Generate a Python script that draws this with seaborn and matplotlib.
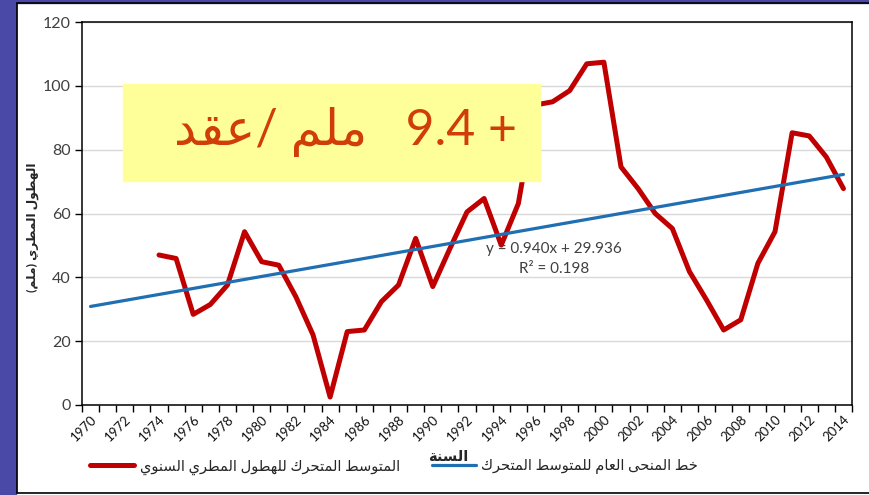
import numpy as np
import pandas as pd
import matplotlib
matplotlib.use("Agg")
import matplotlib.pyplot as plt
from matplotlib.patches import Rectangle
from matplotlib.lines import Line2D
import seaborn as sns

# data
years = list(range(1970, 2015))
rain_ma = [np.nan, np.nan, np.nan, np.nan,
           47.0, 45.9, 28.4, 31.5, 37.6, 54.3, 44.9, 43.8, 33.9, 22.0,
           2.5, 23.0, 23.5, 32.4, 37.6, 52.2, 37.1, 49.0, 60.5, 64.7,
           50.1, 63.1, 94.0, 95.0, 98.5, 106.9, 107.4, 74.6, 67.8, 60.0,
           55.3, 41.8, 32.9, 23.5, 26.7, 44.4, 54.3, 85.3, 84.3, 77.7, 67.8]
trend_slope = 0.940
trend_intercept = 29.936
trend_r2 = 0.198
y_ticks = [0, 20, 40, 60, 80, 100, 120]
x_labels = list(range(1970, 2015, 2))

# minimal arabic shaping (matplotlib has no bidi / joining)
FORMS = {
    'ا': ('\uFE8D', '\uFE8E'), 'د': ('\uFEA9', '\uFEAA'),
    'ر': ('\uFEAD', '\uFEAE'), 'و': ('\uFEED', '\uFEEE'),
    'ة': ('\uFE93', '\uFE94'), 'ى': ('\uFEEF', '\uFEF0'),
    'ت': ('\uFE95', '\uFE96', '\uFE97', '\uFE98'),
    'ح': ('\uFEA1', '\uFEA2', '\uFEA3', '\uFEA4'),
    'خ': ('\uFEA5', '\uFEA6', '\uFEA7', '\uFEA8'),
    'س': ('\uFEB1', '\uFEB2', '\uFEB3', '\uFEB4'),
    'ط': ('\uFEC1', '\uFEC2', '\uFEC3', '\uFEC4'),
    'ع': ('\uFEC9', '\uFECA', '\uFECB', '\uFECC'),
    'ق': ('\uFED5', '\uFED6', '\uFED7', '\uFED8'),
    'ك': ('\uFED9', '\uFEDA', '\uFEDB', '\uFEDC'),
    'ل': ('\uFEDD', '\uFEDE', '\uFEDF', '\uFEE0'),
    'م': ('\uFEE1', '\uFEE2', '\uFEE3', '\uFEE4'),
    'ن': ('\uFEE5', '\uFEE6', '\uFEE7', '\uFEE8'),
    'ه': ('\uFEE9', '\uFEEA', '\uFEEB', '\uFEEC'),
    'ي': ('\uFEF1', '\uFEF2', '\uFEF3', '\uFEF4'),
}


def ar(text):
    out = []
    for i, ch in enumerate(text):
        f = FORMS.get(ch)
        if f is None:
            out.append(ch)
            continue
        prev = text[i - 1] if i > 0 else ''
        nxt = text[i + 1] if i + 1 < len(text) else ''
        jp = prev in FORMS and len(FORMS[prev]) == 4
        jn = len(f) == 4 and nxt in FORMS
        if jp and jn:
            out.append(f[3])
        elif jp:
            out.append(f[1])
        elif jn:
            out.append(f[2])
        else:
            out.append(f[0])
    return ''.join(out)[::-1].translate(str.maketrans('()', ')('))


df = pd.DataFrame({'year': years, 'rain': rain_ma})
df['trend'] = trend_intercept + trend_slope * (df['year'] - 1969)

sns.set_style("white")
plt.rcParams['font.family'] = ['Lato', 'DejaVu Sans']

fig = plt.figure(figsize=(8.69, 4.95), dpi=100)
W, H = 869, 495
ax = fig.add_axes([82 / W, 1 - 405 / H, (852 - 82) / W, (405 - 22) / H])

# slide background bits
fig.patches.append(Rectangle((0, 0), 16 / W, 1, transform=fig.transFigure,
                             color='#4b49a8', zorder=0))
fig.patches.append(Rectangle((0, 1 - 3 / H), 1, 3 / H, transform=fig.transFigure,
                             color='#4b49a8', zorder=0))
for xs, ys in [([16.5, 16.5], [3, 493]), ([16.5, 869], [3, 3]), ([16.5, 869], [493, 493])]:
    fig.add_artist(Line2D([x / W for x in xs], [1 - y / H for y in ys],
                          transform=fig.transFigure, color='black', lw=1.2))

red = '#c00000'
blue = '#1f6fb2'
sns.lineplot(data=df, x='year', y='rain', color=red, lw=3.6, ax=ax,
             label=ar('المتوسط المتحرك للهطول المطري السنوي'), zorder=3)
sns.lineplot(data=df, x='year', y='trend', color=blue, lw=2.3, ax=ax,
             label=ar('خط المنحى العام للمتوسط المتحرك'), zorder=4)

ax.set_xlim(1969.5, 2014.5)
ax.set_ylim(0, 120)
ax.set_yticks(y_ticks)
ax.set_yticklabels([str(v) for v in y_ticks], fontsize=11.5, color='#404040')
ax.yaxis.grid(True, color='#d9d9d9', lw=1)
ax.set_axisbelow(True)
ax.tick_params(axis='y', which='major', direction='out', length=5, width=1,
               color='black', left=True, pad=3)

ax.set_xticks(x_labels)
ax.set_xticklabels([str(v) for v in x_labels], rotation=45, ha='right',
                   rotation_mode='anchor', fontsize=9.5, color='#111111')
ax.set_xticks(np.arange(1969.5, 2015, 1), minor=True)
ax.tick_params(axis='x', which='major', length=0, pad=6)
ax.tick_params(axis='x', which='minor', direction='out', length=5, width=1,
               color='black', bottom=True)
for s in ax.spines.values():
    s.set_color('black')
    s.set_linewidth(1.1)

ax.set_xlabel(ar('السنة'), fontsize=10.5, fontweight='bold', labelpad=0)
ax.xaxis.set_label_coords((448 - 82) / (852 - 82), (405 - 450) / (405 - 22))
ax.set_ylabel(ar('الهطول المطري (ملم)'), fontsize=8.8, fontweight='bold')
ax.yaxis.set_label_coords((39 - 82) / (852 - 82), (405 - 227) / (405 - 22))

# trend equation
ax.text(1997.1, 49.0, f'y = {trend_slope:.3f}x + {trend_intercept:.3f}',
        ha='center', va='center', fontsize=11, color='#404040', zorder=6)
ax.text(1997.1, 42.6, f'R² = {trend_r2:.3f}', ha='center', va='center',
        fontsize=11, color='#404040', zorder=6)

# yellow highlight box
fig.patches.append(Rectangle((123 / W, 1 - 181 / H), (540 - 123) / W, (181 - 84) / H,
                             transform=fig.transFigure, color='#ffff99', zorder=5))
fig.text(((175 + 517) / 2) / W, 1 - 132 / H, ar('ملم /عقد') + '   9.4 +',
         ha='center', va='center', fontsize=36, color='#d03c0a', zorder=6)

leg = ax.legend(loc='center left', bbox_to_anchor=((90 - 82) / (852 - 82), (405 - 467) / (405 - 22)),
                ncol=2, frameon=False, fontsize=10.5, handlelength=3.0,
                handletextpad=0.4, columnspacing=2.2, borderaxespad=0, borderpad=0)

fig.savefig('out.png', dpi=100)
